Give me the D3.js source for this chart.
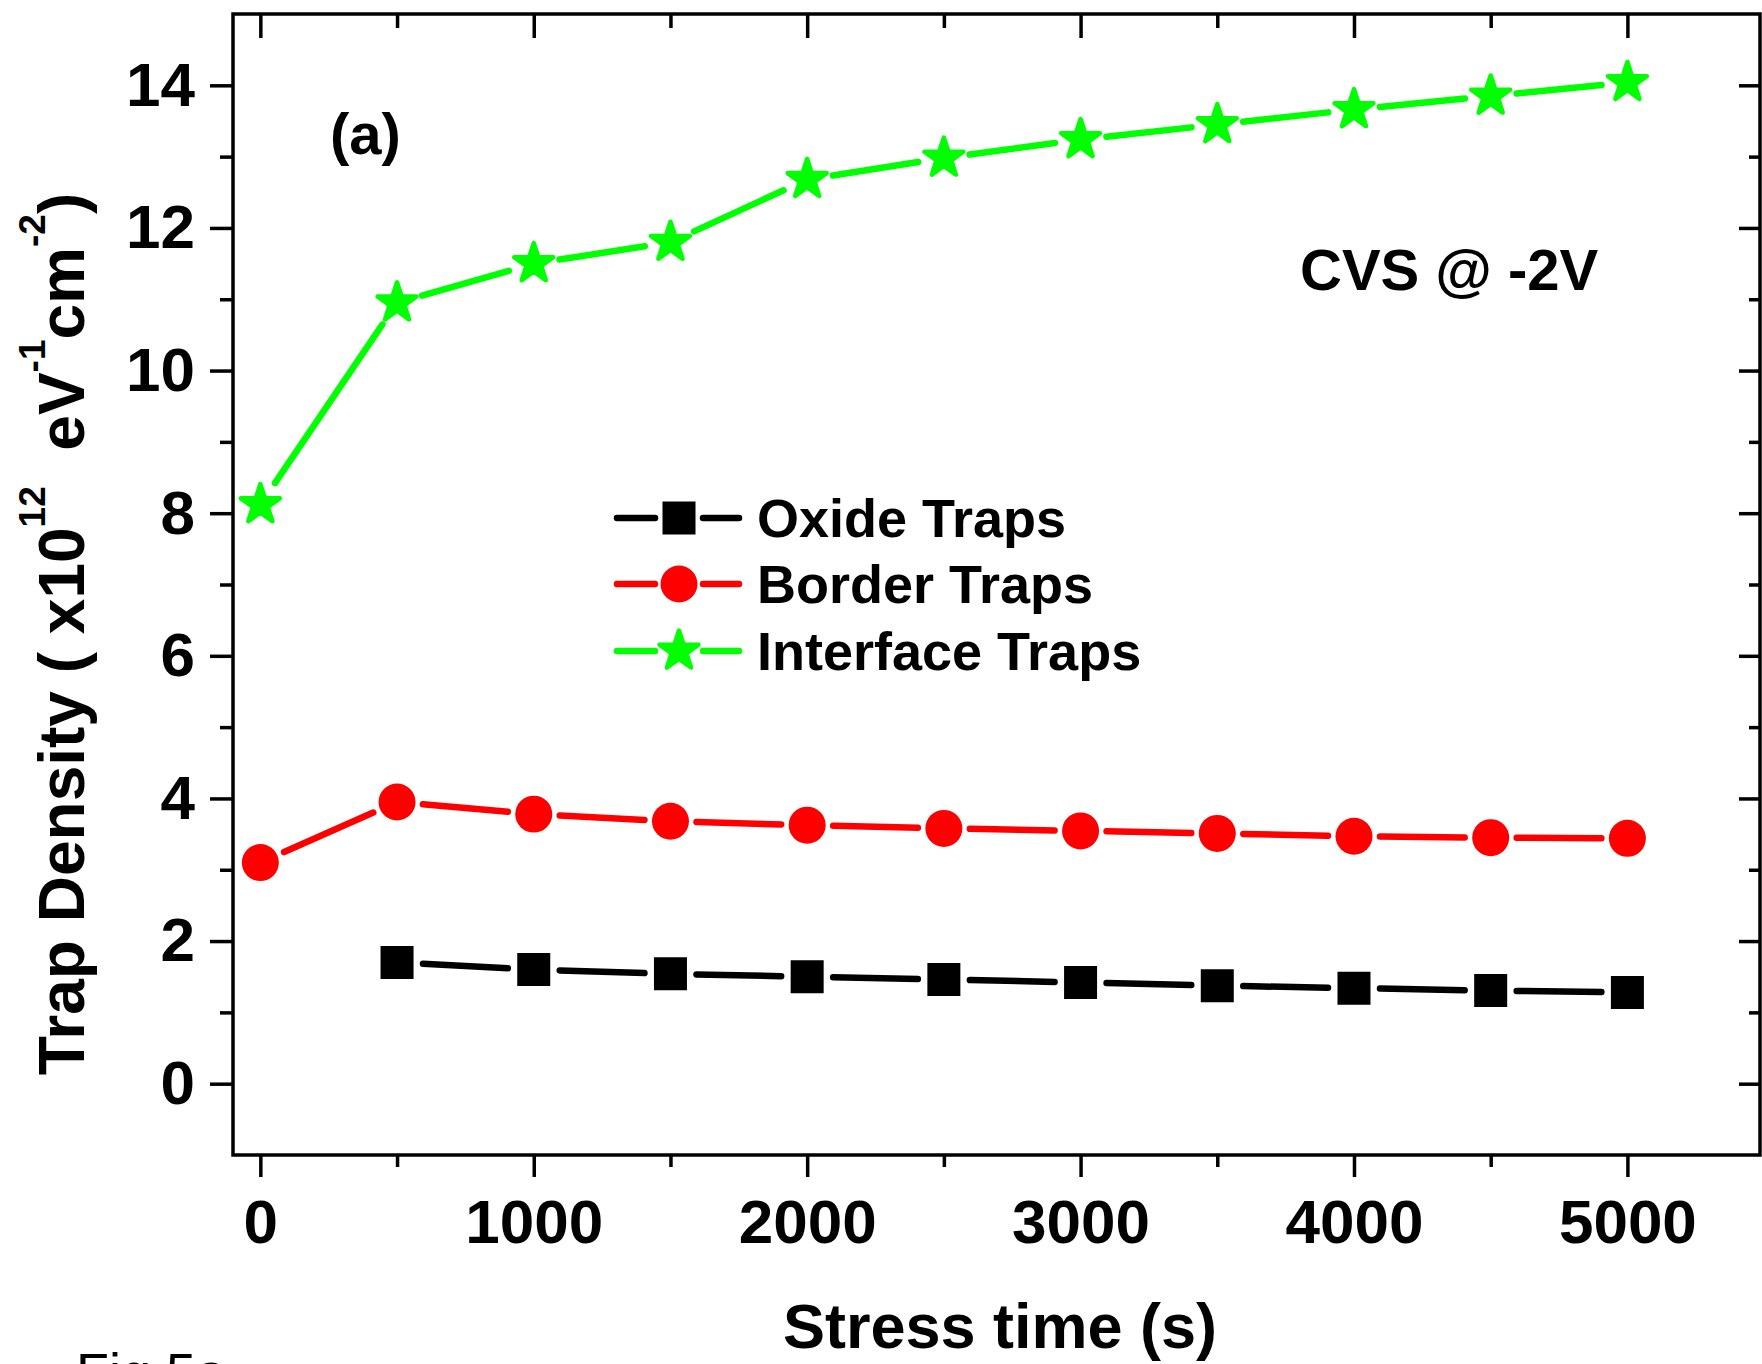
<!DOCTYPE html>
<html><head><meta charset="utf-8">
<script src="https://cdn.jsdelivr.net/npm/d3@7"></script>
<style>
html,body{margin:0;padding:0;background:#fff;}
svg{display:block;font-family:"Liberation Sans",Arial,sans-serif;}
</style>
</head><body>
<svg id="chart" width="1762" height="1364"></svg>
<script>
// ---- data ----
const times = [0, 500, 1000, 1500, 2000, 2500, 3000, 3500, 4000, 4500, 5000];
const oxideTraps = [null, 1.70, 1.60, 1.54, 1.50, 1.46, 1.42, 1.375, 1.34, 1.305, 1.28];
const borderTraps = [3.10, 3.95, 3.78, 3.68, 3.625, 3.58, 3.545, 3.51, 3.47, 3.45, 3.44];
const interfaceTraps = [8.12, 10.95, 11.50, 11.80, 12.68, 12.98, 13.24, 13.45, 13.66, 13.85, 14.04];
const seriesNames = ["Oxide Traps", "Border Traps", "Interface Traps"];
const xMajorTicks = [0, 1000, 2000, 3000, 4000, 5000];
const xMinorTicks = [500, 1500, 2500, 3500, 4500];
const yMajorTicks = [0, 2, 4, 6, 8, 10, 12, 14];
const yMinorTicks = [1, 3, 5, 7, 9, 11, 13];

// ---- layout ----
const svg = d3.select("#chart");
const L = 233, R = 1760, T = 14, B = 1155;
const x = d3.scaleLinear().domain([-100, 5485]).range([L, R]);
const y = d3.scaleLinear().domain([-1, 15]).range([B, T]);
const AXW = 3.5;

function styleAxis(g, fs) {
  g.select(".domain").remove();
  g.selectAll(".tick line").attr("stroke", "#000").attr("stroke-width", AXW);
  g.selectAll(".tick text").attr("fill", "#000").attr("font-size", fs).attr("font-weight", "bold");
}
// bottom
svg.append("g").attr("transform", `translate(0,${B})`)
  .call(d3.axisBottom(x).tickValues(xMajorTicks).tickSize(22).tickSizeOuter(0).tickPadding(22).tickFormat(d3.format("d")))
  .call(g => styleAxis(g, 62));
svg.append("g").attr("transform", `translate(0,${B})`)
  .call(d3.axisBottom(x).tickValues(xMinorTicks).tickSize(12).tickSizeOuter(0).tickFormat(""))
  .call(g => styleAxis(g, 0));
// top
svg.append("g").attr("transform", `translate(0,${T})`)
  .call(d3.axisTop(x).tickValues(xMajorTicks).tickSize(-24).tickSizeOuter(0).tickFormat(""))
  .call(g => styleAxis(g, 0));
svg.append("g").attr("transform", `translate(0,${T})`)
  .call(d3.axisTop(x).tickValues(xMinorTicks).tickSize(-14).tickSizeOuter(0).tickFormat(""))
  .call(g => styleAxis(g, 0));
// left
svg.append("g").attr("transform", `translate(${L},0)`)
  .call(d3.axisLeft(y).tickValues(yMajorTicks).tickSize(23).tickSizeOuter(0).tickPadding(15).tickFormat(d3.format("d")))
  .call(g => styleAxis(g, 62));
svg.append("g").attr("transform", `translate(${L},0)`)
  .call(d3.axisLeft(y).tickValues(yMinorTicks).tickSize(13).tickSizeOuter(0).tickFormat(""))
  .call(g => styleAxis(g, 0));
// right
svg.append("g").attr("transform", `translate(${R},0)`)
  .call(d3.axisRight(y).tickValues(yMajorTicks).tickSize(-21).tickSizeOuter(0).tickFormat(""))
  .call(g => styleAxis(g, 0));
svg.append("g").attr("transform", `translate(${R},0)`)
  .call(d3.axisRight(y).tickValues(yMinorTicks).tickSize(-11).tickSizeOuter(0).tickFormat(""))
  .call(g => styleAxis(g, 0));

// frame
svg.append("rect").attr("x", L).attr("y", T).attr("width", R - L).attr("height", B - T)
  .attr("fill", "none").attr("stroke", "#000").attr("stroke-width", AXW);

// ---- series ----
const LW = 6.5, GAP = 26;
const series = [
  { name: seriesNames[0], values: oxideTraps, color: "#000000", sym: d3.symbolSquare, size: 1089, sw: 0 },
  { name: seriesNames[1], values: borderTraps, color: "#ff0000", sym: d3.symbolCircle, size: 1075, sw: 0 },
  { name: seriesNames[2], values: interfaceTraps, color: "#00ff00", sym: d3.symbolStar, size: 470, sw: 4.5 }
];

function shorten(a, b, g) {
  const dx = b[0] - a[0], dy = b[1] - a[1], len = Math.hypot(dx, dy), f = g / len;
  return [a[0] + dx * f, a[1] + dy * f, b[0] - dx * f, b[1] - dy * f];
}

series.forEach(s => {
  const pts = times.map((t, i) => [t, s.values[i]]).filter(d => d[1] != null)
    .map(d => [x(d[0]), y(d[1])]);
  const g = svg.append("g");
  g.selectAll("line").data(d3.pairs(pts).map(p => shorten(p[0], p[1], GAP))).join("line")
    .attr("x1", d => d[0]).attr("y1", d => d[1]).attr("x2", d => d[2]).attr("y2", d => d[3])
    .attr("stroke", s.color).attr("stroke-width", LW).attr("stroke-linecap", "round");
  g.selectAll("path").data(pts).join("path")
    .attr("transform", d => `translate(${d[0]},${d[1]})`)
    .attr("d", d3.symbol().type(s.sym).size(s.size)())
    .attr("fill", s.color)
    .attr("stroke", s.sw ? s.color : "none").attr("stroke-width", s.sw).attr("stroke-linejoin", "round");
});

// ---- legend ----
const legX0 = 617, legX1 = 739, legMid = 679, legTextX = 757;
const legRows = [518, 584, 651];
series.forEach((s, i) => {
  const yy = legRows[i];
  const g = svg.append("g");
  [[legX0, legMid - 24], [legMid + 24, legX1]].forEach(seg => {
    g.append("line").attr("x1", seg[0]).attr("x2", seg[1]).attr("y1", yy).attr("y2", yy)
      .attr("stroke", s.color).attr("stroke-width", LW).attr("stroke-linecap", "round");
  });
  g.append("path").attr("transform", `translate(${legMid},${yy})`)
    .attr("d", d3.symbol().type(s.sym).size(s.size)())
    .attr("fill", s.color)
    .attr("stroke", s.sw ? s.color : "none").attr("stroke-width", s.sw).attr("stroke-linejoin", "round");
  g.append("text").attr("x", legTextX).attr("y", yy).attr("dy", "0.36em")
    .attr("font-size", 54).attr("font-weight", "bold").attr("fill", "#000").text(s.name);
});

// ---- annotations ----
svg.append("text").attr("x", 330).attr("y", 154).attr("font-size", 58).attr("font-weight", "bold").text("(a)");
svg.append("text").attr("x", 1300).attr("y", 290).attr("font-size", 58).attr("font-weight", "bold").text("CVS @ -2V");

// axis titles
svg.append("text").attr("x", 1000).attr("y", 1348).attr("text-anchor", "middle")
  .attr("font-size", 63).attr("font-weight", "bold").text("Stress time (s)");

const yt = svg.append("text").attr("transform", "translate(84,634) rotate(-90)")
  .attr("text-anchor", "middle").attr("font-size", 64).attr("font-weight", "bold")
  .style("white-space", "pre");
const SUP = 39;
yt.append("tspan").text("Trap Density ( x10");
yt.append("tspan").attr("dy", -SUP).attr("font-size", 37).text("12");
yt.append("tspan").attr("dy", SUP).text("  eV");
yt.append("tspan").attr("dy", -SUP).attr("font-size", 37).text("-1");
yt.append("tspan").attr("dy", SUP).text("cm");
yt.append("tspan").attr("dy", -SUP).attr("font-size", 37).text("-2");
yt.append("tspan").attr("dy", SUP).text(")");

svg.append("text").attr("x", 76).attr("y", 1391).attr("font-size", 54).attr("fill", "#000").text("Fig.5a");
</script>
</body></html>
